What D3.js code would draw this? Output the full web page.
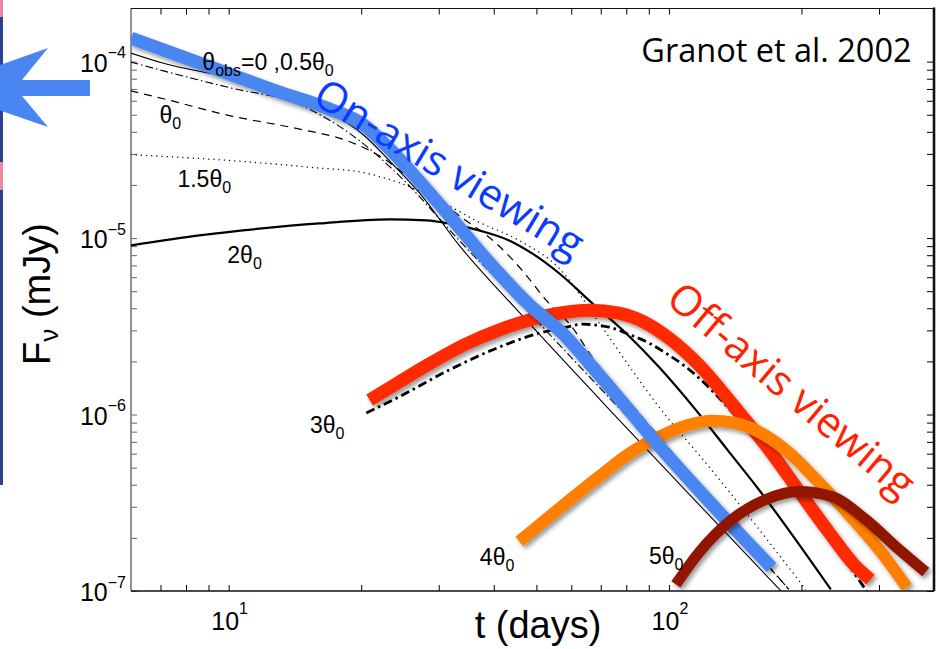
<!DOCTYPE html>
<html><head><meta charset="utf-8">
<script src="https://cdn.jsdelivr.net/npm/d3@7"></script>
<style>body{margin:0;background:#fff;} svg{display:block;background:#fff;}</style>
</head><body><svg id="c" width="939" height="649"></svg>
<script>
// ---------- data ----------
const xDomain = [6, 400];
const yDomain = [1e-7, 2e-4];
const xMajorTicks = [10, 100];
const xMajorExp = ["1", "2"];
const xMinorTicks = [7, 8, 9, 20, 30, 40, 50, 60, 70, 80, 90, 200, 300];
const yMajorTicks = [1e-7, 1e-6, 1e-5, 1e-4];
const yMajorExp = ["\u22127", "\u22126", "\u22125", "\u22124"];
const yMinorTicks = [2e-7,3e-7,4e-7,5e-7,6e-7,7e-7,8e-7,9e-7,2e-6,3e-6,4e-6,5e-6,6e-6,7e-6,8e-6,9e-6,2e-5,3e-5,4e-5,5e-5,6e-5,7e-5,8e-5,9e-5];

// black model curves (Granot et al. 2002)
const obs0T  = [5.98,7.11,10.09,14.32,17.01,20.22,23.16,27.09,33.39,45.67,77.03,117,187.3];
const obs0F  = [1.12e-4,9.78e-5,8.09e-5,6.23e-5,5.13e-5,3.85e-5,2.75e-5,1.81e-5,9.09e-6,3.80e-6,9.33e-7,3.09e-7,8.97e-8];
const obs05T = [5.98,7.11,10.09,14.32,20.22,24.39,33.39,45.67,77.03,117,187.3];
const obs05F = [9.96e-5,8.86e-5,7.10e-5,5.77e-5,3.43e-5,2.26e-5,9.70e-6,4.33e-6,1.09e-6,3.75e-7,1.02e-7];
const obs1T  = [5.98,7.11,10.09,14.32,18.6,21.98,27.09,33.39,40.51,46.4,52.6,60.26,66.88,77.03,90.1,117,187.3];
const obs1F  = [6.83e-5,6.16e-5,4.93e-5,4.17e-5,3.56e-5,2.93e-5,1.98e-5,1.34e-5,9.33e-6,6.57e-6,4.45e-6,3.13e-6,2.12e-6,1.38e-6,8.74e-7,4.01e-7,1.02e-7];
const obs15T = [5.98,10.09,15.57,20.22,24.39,30.07,37.06,45.67,56.3,70.5,85.51,98.45,117,204.6];
const obs15F = [2.97e-5,2.75e-5,2.51e-5,2.35e-5,2.06e-5,1.63e-5,1.23e-5,9.7e-6,6.74e-6,3.13e-6,1.57e-6,9.83e-7,5.92e-7,1.02e-7];
const obs2T  = [5.98,8.58,11.74,16.07,23.16,28.09,31.69,37.06,43.35,48.89,56.3,66.88,79.9,94.93,115.2,136.8,160.1,233.2];
const obs2F  = [9.09e-6,1.036e-5,1.13e-5,1.21e-5,1.275e-5,1.26e-5,1.21e-5,1.105e-5,9.70e-6,8.19e-6,6.32e-6,4.28e-6,2.89e-6,1.86e-6,1.06e-6,6.16e-7,3.75e-7,1.02e-7];
const obs3T  = [20.54,24.39,31.69,41.15,50.71,58.4,63.49,73.09,79.9,90.1,100,109.3,117,144.2,177.7,219,269.9,284.4];
const obs3F  = [1.02e-6,1.26e-6,1.79e-6,2.41e-6,2.89e-6,3.13e-6,3.25e-6,3.13e-6,2.89e-6,2.54e-6,2.17e-6,1.86e-6,1.61e-6,9.33e-7,4.87e-7,2.38e-7,1.16e-7,9.58e-8];

// coloured overlays
const onAxisT  = [6,8.6,13.1,16.9,20.2,23.2,27.1,31.7,39,48.1,57.2,69.4,99,130,171];
const onAxisF  = [1.36e-4,9.8e-5,6.7e-5,5.4e-5,4.4e-5,3.2e-5,2.1e-5,1.34e-5,7.3e-6,4.2e-6,2.9e-6,1.68e-6,5.9e-7,2.8e-7,1.36e-7];
const off3T    = [20.9,24.4,28.5,34.6,41.1,48.9,56.3,65.9,77,87.8,100,117,144,169,197,231,263,287];
const off3F    = [1.21e-6,1.53e-6,1.93e-6,2.51e-6,3.01e-6,3.47e-6,3.75e-6,3.90e-6,3.75e-6,3.34e-6,2.71e-6,1.91e-6,1.035e-6,6.32e-7,3.71e-7,2.15e-7,1.415e-7,1.16e-7];
const off4T    = [45.7,56.3,69.4,81.1,94.9,111,125,140.4,166,187.3,216,260,304,347];
const off4F    = [1.91e-7,2.93e-7,4.45e-7,6.00e-7,7.48e-7,8.74e-7,9.21e-7,8.98e-7,7.58e-7,6.08e-7,4.28e-7,2.61e-7,1.65e-7,1.05e-7];
const off5T    = [103.7,117,139,166,197,234,280,333,383];
const off5F    = [1.09e-7,1.65e-7,2.54e-7,3.30e-7,3.66e-7,3.43e-7,2.54e-7,1.72e-7,1.28e-7];

// curve labels: [text, subscript] pieces, anchored at (t, F)
const labelText = [
  [["\u03b8",0],["obs",1],["=0 ,0.5\u03b8",0],["0",1]],
  [["\u03b8",0],["0",1]],
  [["1.5\u03b8",0],["0",1]],
  [["2\u03b8",0],["0",1]],
  [["3\u03b8",0],["0",1]],
  [["4\u03b8",0],["0",1]],
  [["5\u03b8",0],["0",1]]
];
const labelT = [8.715, 6.96, 7.65, 9.93, 15.3, 37.2, 90.1];
const labelF = [9.0e-5, 4.5e-5, 1.96e-5, 7.2e-6, 7.9e-7, 1.4e-7, 1.43e-7];

// ---------- drawing ----------
const svg = d3.select("#c");
const M = {l:131, r:934, t:8.5, b:591};
const x = d3.scaleLog().domain(xDomain).range([M.l, M.r]);
const y = d3.scaleLog().domain(yDomain).range([M.b, M.t]);

const defs = svg.append("defs");
defs.append("clipPath").attr("id","plot").append("rect")
  .attr("x",M.l).attr("y",M.t).attr("width",M.r-M.l).attr("height",M.b-M.t);
const f = defs.append("filter").attr("id","sh").attr("x","-20%").attr("y","-20%").attr("width","140%").attr("height","140%");
f.append("feDropShadow").attr("dx",2.5).attr("dy",3).attr("stdDeviation",2)
  .attr("flood-color","#000").attr("flood-opacity",0.4);

// slide decorations at left edge
svg.append("rect").attr("x",0).attr("y",0).attr("width",3).attr("height",485).attr("fill","#2c418f");
svg.append("rect").attr("x",0).attr("y",0).attr("width",3).attr("height",17).attr("fill","#ec86a2");
svg.append("rect").attr("x",0).attr("y",162).attr("width",3).attr("height",28).attr("fill","#ec86a2");
svg.append("path").attr("d","M-65,88 L48,48 L22,80 L90,80 L90,96 L22,96 L48,127 Z").attr("fill","#4a86f2");

// axes ticks
const allX = xMajorTicks.concat(xMinorTicks);
const allY = yMajorTicks.concat(yMinorTicks);
function styleAxis(g, col){ g.select(".domain").remove(); g.selectAll("line").attr("stroke",col).attr("stroke-width",1); }
svg.append("g").attr("transform",`translate(0,${M.b})`)
  .call(d3.axisBottom(x).tickValues(allX).tickSize(-6).tickFormat("")).call(g=>styleAxis(g,"#000"));
svg.append("g").attr("transform",`translate(0,${M.t})`)
  .call(d3.axisTop(x).tickValues(allX).tickSize(-6).tickFormat("")).call(g=>styleAxis(g,"#000"));
svg.append("g").attr("transform",`translate(${M.l},0)`)
  .call(d3.axisLeft(y).tickValues(allY).tickSize(-6).tickFormat("")).call(g=>styleAxis(g,"#666"));
svg.append("g").attr("transform",`translate(${M.r},0)`)
  .call(d3.axisRight(y).tickValues(allY).tickSize(-7).tickFormat("")).call(g=>styleAxis(g,"#000"));

// frame
svg.append("line").attr("x1",M.l).attr("x2",M.l).attr("y1",M.t).attr("y2",M.b).attr("stroke","#777").attr("stroke-width",1.6);
svg.append("line").attr("x1",M.l).attr("x2",M.r).attr("y1",M.b).attr("y2",M.b).attr("stroke","#111").attr("stroke-width",1.4);
svg.append("line").attr("x1",M.l).attr("x2",M.r).attr("y1",M.t).attr("y2",M.t).attr("stroke","#111").attr("stroke-width",1.2);
svg.append("line").attr("x1",M.r).attr("x2",M.r).attr("y1",M.t-1).attr("y2",M.b).attr("stroke","#111").attr("stroke-width",2.6);

// tick labels
const TF = "'Liberation Sans', Arial, Helvetica, sans-serif";
yMajorTicks.forEach((v,i)=>{
  const t = svg.append("text").attr("x",M.l-5).attr("y",y(v)+10).attr("text-anchor","end")
    .attr("font-family",TF).attr("font-size",25).attr("fill","#000");
  t.append("tspan").text("10");
  t.append("tspan").attr("dy",-13.5).attr("font-size",16).text(yMajorExp[i]);
});
xMajorTicks.forEach((v,i)=>{
  const t = svg.append("text").attr("x",x(v)+1).attr("y",630).attr("text-anchor","middle")
    .attr("font-family",TF).attr("font-size",25).attr("fill","#000");
  t.append("tspan").text("10");
  t.append("tspan").attr("dy",-16.5).attr("font-size",16).text(xMajorExp[i]);
});

// axis titles
svg.append("text").attr("x",538).attr("y",638).attr("text-anchor","middle")
  .attr("font-family",TF).attr("font-size",38).text("t (days)");
const yt = svg.append("text").attr("transform","translate(50,294) rotate(-90)").attr("text-anchor","middle")
  .attr("font-family",TF).attr("font-size",38);
yt.append("tspan").text("F");
yt.append("tspan").attr("dy",8).attr("font-size",26).text("\u03bd");
yt.append("tspan").attr("dy",-8).text(" (mJy)");

// curves
const line = d3.line().x(d=>x(d[0])).y(d=>y(d[1])).curve(d3.curveMonotoneX);
const P = svg.append("g").attr("clip-path","url(#plot)");
const black = [
  [obs0T, obs0F, 1.1, null],
  [obs05T, obs05F, 1.1, "8,3,1.5,3"],
  [obs1T, obs1F, 1.2, "8,6"],
  [obs15T, obs15F, 1.3, "1.2,4"],
  [obs2T, obs2F, 2.2, null],
  [obs3T, obs3F, 2.8, "9,4,2.5,4"]
];
black.forEach(([T,F,w,da])=>{
  P.append("path").attr("d", line(d3.zip(T,F))).attr("fill","none").attr("stroke","#000")
    .attr("stroke-width",w).attr("stroke-dasharray",da);
});

// curve labels
labelText.forEach((parts,i)=>{
  const t = svg.append("text").attr("x",x(labelT[i])).attr("y",y(labelF[i]))
    .attr("font-family",TF).attr("font-size",23).attr("fill","#000");
  let sub = false;
  parts.forEach(([s,isSub])=>{
    const ts = t.append("tspan").text(s);
    if (isSub && !sub) { ts.attr("dy",6).attr("font-size",16); sub = true; }
    else if (isSub) { ts.attr("font-size",16); }
    else if (!isSub && sub) { ts.attr("dy",-6); sub = false; }
  });
});

// coloured overlays
const colored = [
  [off3T, off3F, "#ff2a00", 13],
  [off4T, off4F, "#ff8000", 12],
  [onAxisT, onAxisF, "#4a86f2", 13],
  [off5T, off5F, "#901600", 11]
];
colored.forEach(([T,F,c,w])=>{
  P.append("path").attr("d", line(d3.zip(T,F))).attr("fill","none").attr("stroke",c)
    .attr("stroke-width",w).attr("stroke-linecap","butt").attr("stroke-linejoin","round")
    .attr("filter","url(#sh)");
});

// annotations
const AF = "'Open Sans', Lato, sans-serif";
svg.append("text").attr("transform",`translate(${x(31.7)},${y(2.48e-5)}) rotate(31)`)
  .attr("text-anchor","middle").attr("dy","0.35em").attr("font-family",AF).attr("font-size",42)
  .attr("fill","#0a3cff").text("On-axis viewing");
svg.append("text").attr("transform",`translate(${x(190)},${y(1.38e-6)}) rotate(40)`)
  .attr("text-anchor","middle").attr("dy","0.35em").attr("font-family",AF).attr("font-size",42)
  .attr("fill","#ff2200").text("Off-axis viewing");
svg.append("text").attr("x",x(355.8)).attr("y",62).attr("text-anchor","end")
  .attr("font-family",AF).attr("font-size",32.5).attr("fill","#000").text("Granot et al. 2002");
</script></body></html>
